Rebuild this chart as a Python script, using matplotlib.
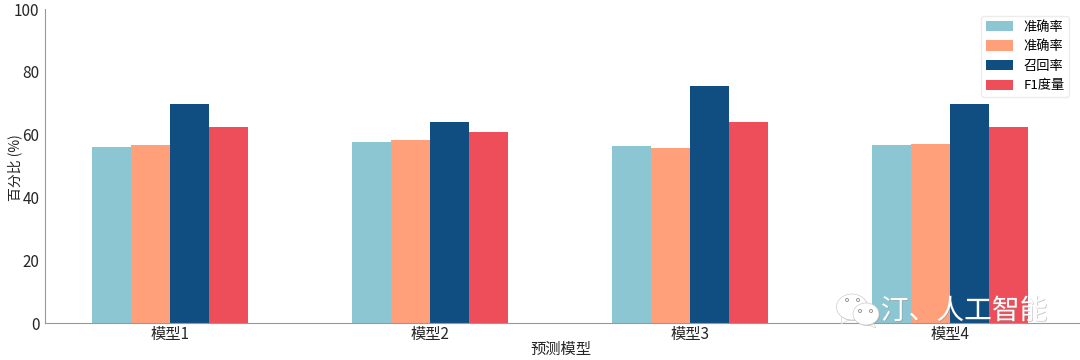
#!/usr/bin/env python3
import numpy as np
import matplotlib
matplotlib.use("Agg")
import matplotlib.pyplot as plt
from matplotlib.patches import Ellipse, Polygon
import matplotlib.patheffects as pe

plt.rcParams["font.family"] = ["Noto Sans CJK SC", "DejaVu Sans"]

models = ["模型1", "模型2", "模型3", "模型4"]
series_names = ["准确率", "准确率", "召回率", "F1度量"]
accuracy_a = [56.0, 57.8, 56.3, 56.6]
accuracy_b = [56.6, 58.2, 55.8, 57.0]
recall = [69.6, 63.9, 75.6, 69.7]
f1_score = [62.4, 60.9, 64.1, 62.5]
colors = ["#8cc6d2", "#ffa07a", "#104e82", "#ee4e59"]
yticks = [0, 20, 40, 60, 80, 100]


def draw_watermark(fig):
    """WeChat style mark in the lower right corner, in figure pixels."""
    overlay = fig.add_axes([0, 0, 1, 1], facecolor="none")
    overlay.set_xlim(0, 1080)
    overlay.set_ylim(360, 0)
    overlay.axis("off")

    shadow = [pe.withSimplePatchShadow(offset=(0.6, -0.6), shadow_rgbFace="#999999", alpha=0.6)]
    for cx, cy, w, h, tail in [
        (852, 307, 31, 26, [(842, 316), (841, 324), (851, 319)]),
        (866, 314, 26, 22, [(873, 322), (876, 328), (866, 324)]),
    ]:
        overlay.add_patch(Polygon(tail, facecolor="white", edgecolor="#cccccc", lw=0.4))
        overlay.add_patch(Ellipse((cx, cy), w, h, facecolor="white", edgecolor="#cccccc",
                                  lw=0.5, path_effects=shadow))
    for ex, ey in [(847, 300), (858, 300), (860, 311), (871, 311)]:
        overlay.add_patch(Ellipse((ex, ey), 3, 3, facecolor="none", edgecolor="#888888", lw=0.6))

    overlay.text(964, 311, "汀、人工智能", color="white", fontsize=20, ha="center", va="center",
                 path_effects=[pe.withSimplePatchShadow(offset=(0.5, -0.5), shadow_rgbFace="#888888", alpha=0.5)])


def main():
    fig = plt.figure(figsize=(10.8, 3.6), dpi=100)
    ax = fig.add_axes([45 / 1080, 1 - 323 / 360, 1 - 45 / 1080, 314 / 360])

    x = np.arange(len(models))
    width = 0.15
    all_series = [accuracy_a, accuracy_b, recall, f1_score]
    for i, values in enumerate(all_series):
        ax.bar(x + (i - 1.5) * width, values, width, color=colors[i], label=series_names[i])

    ax.set_xlim(-0.48, 3.5)
    ax.set_ylim(0, 100)
    ax.set_xticks(x)
    ax.set_xticklabels(models)
    ax.set_yticks(yticks)
    ax.tick_params(axis="both", length=0, labelsize=11, labelcolor="#262626")
    ax.tick_params(axis="x", pad=2)
    ax.tick_params(axis="y", pad=4)

    for side in ["top", "right"]:
        ax.spines[side].set_visible(False)
    for side in ["left", "bottom"]:
        ax.spines[side].set_color("#999999")

    ax.set_xlabel("预测模型", fontsize=11, color="#262626")
    ax.xaxis.set_label_coords(0.4985, -0.0575)
    ax.set_ylabel("百分比 (%)", fontsize=10, color="#262626")
    ax.yaxis.set_label_coords(-0.022, 0.494)

    ax.legend(loc="upper right", bbox_to_anchor=(0.9894, 0.978), fontsize=9.5, borderaxespad=0,
              handlelength=2.05, handleheight=0.8, handletextpad=0.8, labelspacing=0.5,
              borderpad=0.35, framealpha=0.8, edgecolor="#e8e8e8")

    draw_watermark(fig)
    fig.savefig("out.png", dpi=100)


if __name__ == "__main__":
    main()
